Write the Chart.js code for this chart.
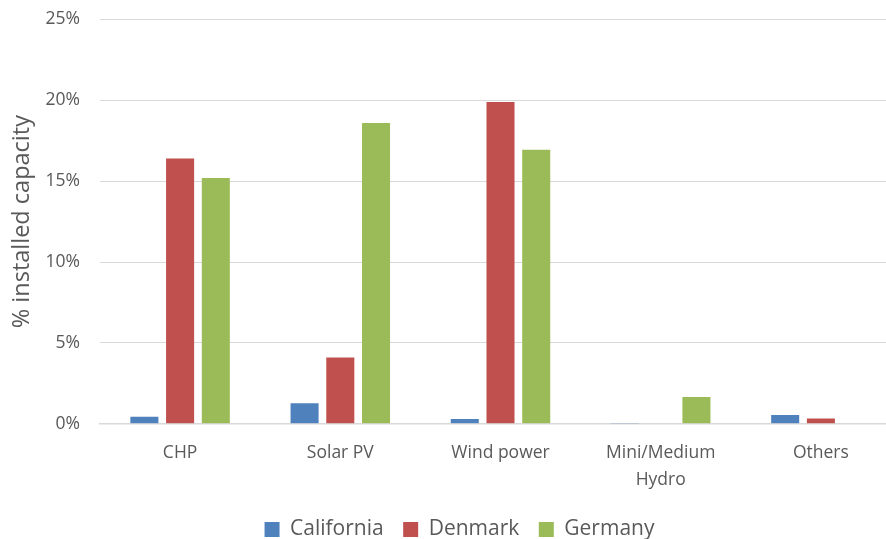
<!DOCTYPE html>
<html>
<head>
<meta charset="utf-8">
<script src="https://cdn.jsdelivr.net/npm/chart.js@4/dist/chart.umd.min.js"></script>
<style>
  html, body { margin: 0; padding: 0; background: #fff; }
  #wrap { width: 886px; height: 539px; overflow: hidden; }
</style>
</head>
<body>
<!-- plot area runs a little past the right edge of the page -->
<div id="wrap"><canvas id="capacityChart" width="901" height="539"></canvas></div>
<script>
// Share of installed capacity by technology
const categories = ["CHP", "Solar PV", "Wind power", ["Mini/Medium", "Hydro"], "Others"];
const california = [0.43, 1.27, 0.3, 0.05, 0.54];
const denmark = [16.4, 4.1, 19.9, 0, 0.33];
const germany = [15.2, 18.6, 16.95, 1.66, 0];
const yTicks = [0, 5, 10, 15, 20, 25];

const textColor = "#595959";
const gridColor = "#d9d9d9";
const fontFamily = "'Open Sans', 'Liberation Sans', sans-serif";

const ctx = document.getElementById("capacityChart").getContext("2d");
new Chart(ctx, {
  type: "bar",
  data: {
    labels: categories,
    datasets: [
      { label: "California", data: california, backgroundColor: "#4f81bd" },
      { label: "Denmark", data: denmark, backgroundColor: "#c0504d" },
      { label: "Germany", data: germany, backgroundColor: "#9bbb59" },
    ],
  },
  options: {
    responsive: false,
    animation: false,
    layout: { padding: { top: 3, right: 0, left: 18, bottom: -11 } },
    datasets: {
      bar: { categoryPercentage: 0.669, barPercentage: 0.785 },
    },
    plugins: {
      tooltip: { enabled: false },
      legend: {
        position: "bottom",
        labels: {
          color: textColor,
          font: { family: fontFamily, size: 21 },
          boxWidth: 15,
          boxHeight: 15,
          padding: 9,
          // an en space after the first names widens the gap between items
          generateLabels: (chart) => {
            const items = Chart.defaults.plugins.legend.labels.generateLabels(chart);
            return items.map((item, i) =>
              i < items.length - 1 ? { ...item, text: item.text + "\u2002" } : item
            );
          },
        },
      },
    },
    scales: {
      x: {
        grid: { display: false, drawTicks: false },
        border: { color: gridColor, width: 1.5 },
        ticks: {
          color: textColor,
          font: { family: fontFamily, size: 17.5, lineHeight: 1.55 },
          padding: 16,
          maxRotation: 0,
          autoSkip: false,
        },
      },
      y: {
        min: 0,
        max: 25,
        afterFit: (scale) => { scale.width = 82; },
        afterBuildTicks: (scale) => { scale.ticks = yTicks.map((v) => ({ value: v })); },
        // invisible tick marks push the labels left without adding top padding
        grid: { color: gridColor, drawTicks: true, tickLength: 11, tickColor: "rgba(0,0,0,0)" },
        border: { display: false },
        title: {
          display: true,
          text: "% installed capacity",
          color: textColor,
          font: { family: fontFamily, size: 23.5 },
          padding: { top: -10, bottom: 0 },
        },
        ticks: {
          color: textColor,
          font: { family: fontFamily, size: 17.5 },
          padding: 9,
          callback: (v) => v + "%",
        },
      },
    },
  },
});
</script>
</body>
</html>
